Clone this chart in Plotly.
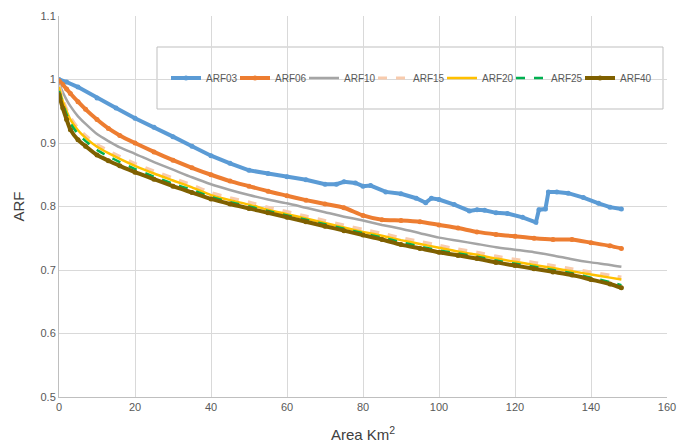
import plotly.graph_objects as go

# ---- data ----
area = [0, 1, 2, 3, 5, 7, 10, 13, 16, 20, 25, 30, 35, 40, 45, 50, 55, 60, 65, 70,
        75, 80, 85, 90, 95, 100, 105, 110, 115, 120, 125, 130, 135, 140, 145, 148]

area_arf03 = [0, 2, 5, 10, 15, 20, 25, 30, 35, 40, 45, 50, 55, 60, 65, 70, 73, 75, 78,
              80, 82, 86, 90, 94, 96.5, 98, 100, 104, 108, 110, 112, 115, 118, 122,
              125.5, 126.3, 128, 128.8, 131, 134, 138, 142, 145, 148]
arf03 = [1.000, 0.996, 0.988, 0.971, 0.955, 0.939, 0.925, 0.910, 0.895, 0.880,
         0.868, 0.857, 0.852, 0.847, 0.842, 0.835, 0.835, 0.839, 0.837, 0.832,
         0.833, 0.823, 0.820, 0.813, 0.806, 0.813, 0.811, 0.803, 0.793, 0.795,
         0.794, 0.790, 0.789, 0.783, 0.775, 0.795, 0.796, 0.823, 0.823, 0.821,
         0.814, 0.805, 0.799, 0.796]

arf06 = [0.998, 0.992, 0.985, 0.978, 0.965, 0.953, 0.937, 0.923, 0.912, 0.900,
         0.886, 0.873, 0.861, 0.850, 0.840, 0.832, 0.824, 0.817, 0.810, 0.804,
         0.798, 0.786, 0.779, 0.778, 0.776, 0.771, 0.766, 0.760, 0.756, 0.753,
         0.750, 0.748, 0.748, 0.743, 0.738, 0.734]

arf10 = [0.993, 0.980, 0.968, 0.958, 0.942, 0.930, 0.914, 0.903, 0.893, 0.883,
         0.870, 0.858, 0.846, 0.835, 0.826, 0.818, 0.811, 0.805, 0.798, 0.791,
         0.784, 0.778, 0.771, 0.765, 0.758, 0.751, 0.746, 0.741, 0.736, 0.732,
         0.728, 0.723, 0.717, 0.712, 0.708, 0.705]

arf15 = [0.991, 0.970, 0.954, 0.941, 0.924, 0.912, 0.898, 0.888, 0.879, 0.868,
         0.856, 0.845, 0.834, 0.822, 0.814, 0.807, 0.799, 0.792, 0.785, 0.778,
         0.771, 0.764, 0.758, 0.751, 0.745, 0.739, 0.733, 0.728, 0.722, 0.717,
         0.712, 0.707, 0.702, 0.697, 0.692, 0.689]

arf20 = [0.988, 0.966, 0.950, 0.937, 0.920, 0.908, 0.894, 0.884, 0.875, 0.864,
         0.852, 0.841, 0.830, 0.818, 0.810, 0.803, 0.795, 0.788, 0.781, 0.774,
         0.767, 0.760, 0.754, 0.747, 0.741, 0.735, 0.729, 0.724, 0.718, 0.713,
         0.708, 0.703, 0.698, 0.693, 0.688, 0.685]

arf25 = [0.982, 0.962, 0.945, 0.931, 0.914, 0.903, 0.889, 0.879, 0.870, 0.859,
         0.847, 0.836, 0.826, 0.815, 0.807, 0.800, 0.793, 0.786, 0.779, 0.772,
         0.765, 0.758, 0.751, 0.744, 0.737, 0.731, 0.726, 0.721, 0.715, 0.710,
         0.705, 0.700, 0.695, 0.688, 0.681, 0.676]

arf40 = [0.976, 0.955, 0.937, 0.921, 0.905, 0.895, 0.881, 0.872, 0.864, 0.854,
         0.843, 0.832, 0.822, 0.812, 0.804, 0.797, 0.790, 0.783, 0.776, 0.769,
         0.762, 0.755, 0.748, 0.740, 0.734, 0.728, 0.723, 0.718, 0.712, 0.707,
         0.702, 0.697, 0.692, 0.685, 0.678, 0.672]

x_ticks = [0, 20, 40, 60, 80, 100, 120, 140, 160]
y_ticks = [0.5, 0.6, 0.7, 0.8, 0.9, 1.0, 1.1]
y_tick_labels = ["0.5", "0.6", "0.7", "0.8", "0.9", "1", "1.1"]

# ---- geometry (pixels) ----
L, R, T, B = 59, 667, 16, 397
W, H = 688, 443

def px_x(p):
    return (p - L) / (R - L)

def px_y(p):
    return (B - p) / (B - T)

LEG_X0, LEG_STEP, LEG_Y = 166, 69, 78
legend_font = dict(size=10, color="#595959", family="Liberation Sans, Arial, sans-serif")

# ---- figure ----
fig = go.Figure()
layout_legends = {}

def add(idx, name, x, y, color, width, dash="solid", marker=False, shape="spline"):
    key = "legend" if idx == 0 else f"legend{idx + 1}"
    fig.add_trace(go.Scatter(
        x=x, y=y, name=name, legend=key,
        mode="lines+markers" if marker else "lines",
        line=dict(color=color, width=width, dash=dash, shape=shape, smoothing=0.6),
        marker=dict(color=color, size=5, symbol="circle"),
    ))
    layout_legends[key] = dict(
        orientation="h", x=px_x(LEG_X0 + idx * LEG_STEP), y=px_y(LEG_Y),
        xanchor="left", yanchor="middle", bgcolor="rgba(0,0,0,0)", borderwidth=0,
        font=legend_font, itemwidth=30,
    )

add(0, "ARF03", area_arf03, arf03, "#5b9bd5", 4, marker=True, shape="linear")
add(1, "ARF06", area, arf06, "#ed7d31", 4, marker=True)
add(2, "ARF10", area, arf10, "#a5a5a5", 2.5)
add(3, "ARF15", area, arf15, "#f8cbad", 3, dash="dash")
add(4, "ARF20", area, arf20, "#ffc000", 2.5)
add(5, "ARF25", area, arf25, "#00b050", 2.5, dash="dash")
add(6, "ARF40", area, arf40, "#7f6000", 4, marker=True)

fig.add_shape(type="rect", xref="paper", yref="paper",
              x0=px_x(157), x1=px_x(663), y0=px_y(109), y1=px_y(47),
              line=dict(color="#bfbfbf", width=1), fillcolor="white", layer="below")

fig.update_layout(
    width=W, height=H,
    margin=dict(l=L, r=W - R, t=T, b=H - B, pad=0, autoexpand=False),
    paper_bgcolor="white", plot_bgcolor="white",
    font=dict(family="Liberation Sans, Arial, sans-serif", color="#595959", size=11),
    showlegend=True,
    xaxis=dict(range=[0, 160], tickvals=x_ticks, showgrid=True, gridcolor="#d9d9d9",
               gridwidth=1, showline=True, linecolor="#bfbfbf", linewidth=1,
               zeroline=False, ticks="", ticklen=0,
               title=dict(text="Area Km<sup>2</sup>", font=dict(size=15, color="#404040"), standoff=17),
               automargin=False),
    yaxis=dict(range=[0.5, 1.1], tickvals=y_ticks, ticktext=y_tick_labels, showgrid=True,
               gridcolor="#d9d9d9", gridwidth=1, showline=True, linecolor="#bfbfbf",
               linewidth=1, zeroline=False, ticks="", ticklen=0,
               title=dict(text="ARF", font=dict(size=15, color="#404040"), standoff=12),
               automargin=False),
    **layout_legends,
)

fig.write_html("out.html")
